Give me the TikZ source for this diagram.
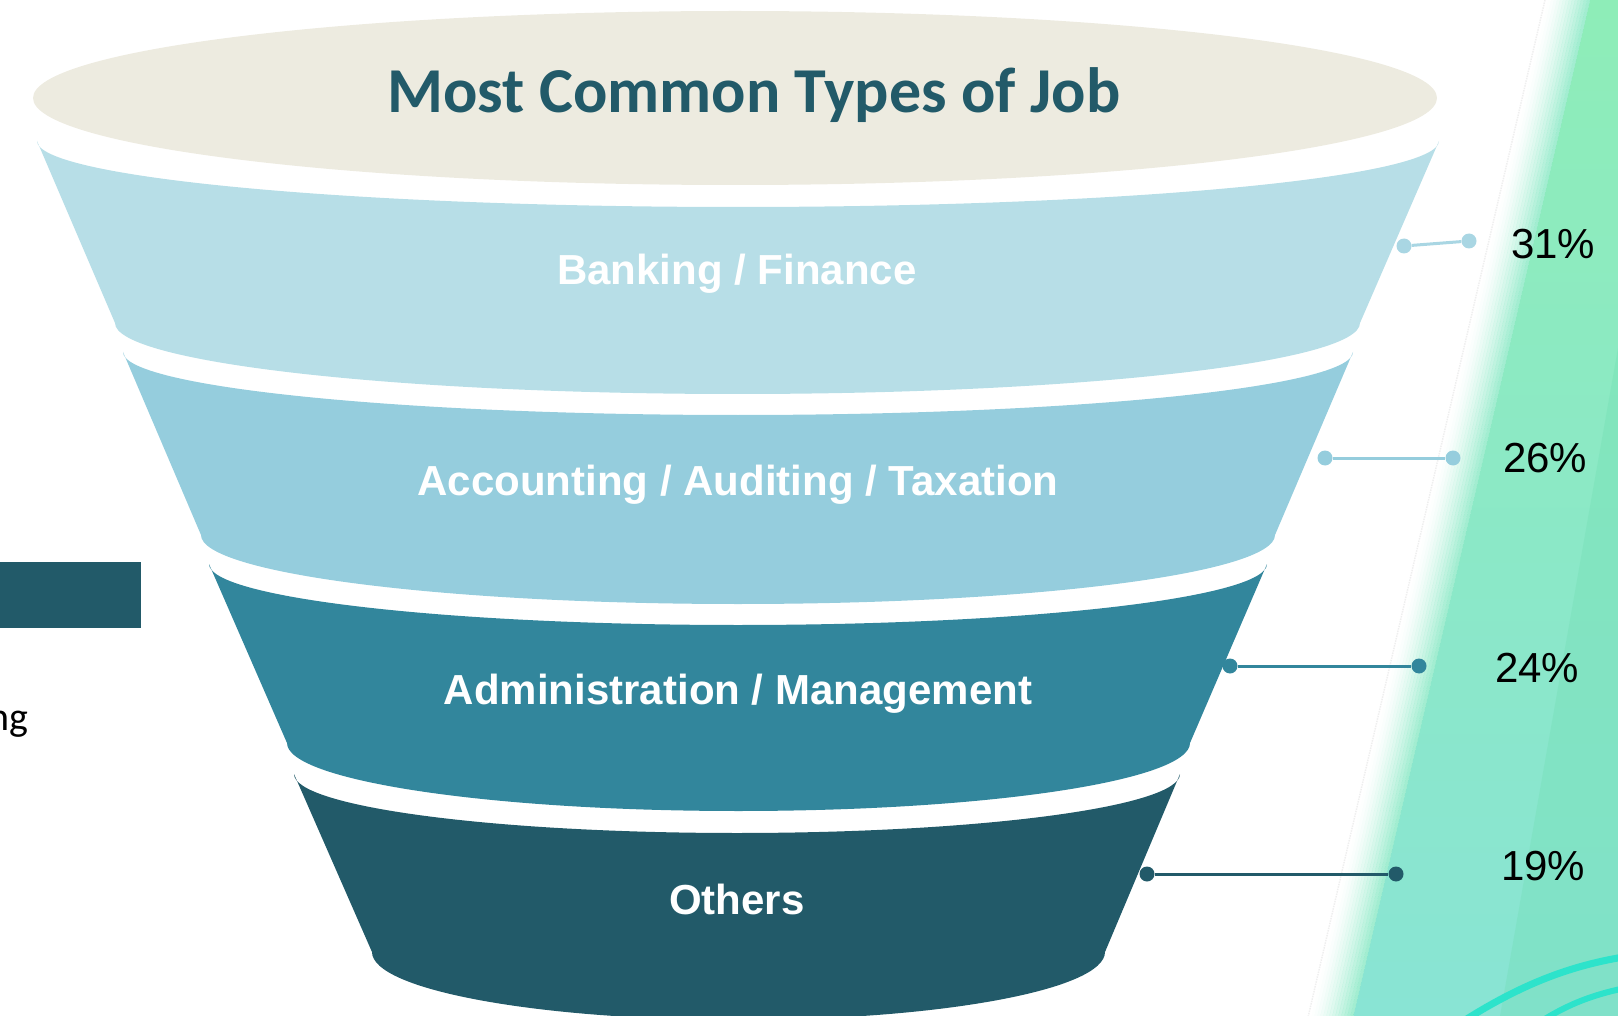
\documentclass[tikz,border=0pt]{standalone}
\usepackage{fontspec}
\setmainfont{Liberation Sans}
\newfontfamily\calibri{Carlito}
\definecolor{topc}{HTML}{EDEBE0}
\definecolor{bandA}{HTML}{B7DEE7}
\definecolor{bandB}{HTML}{95CDDD}
\definecolor{bandC}{HTML}{32869C}
\definecolor{bandD}{HTML}{225A69}
\definecolor{dotA}{HTML}{A9D6E3}
\definecolor{titlec}{HTML}{225A69}
\definecolor{gtop}{HTML}{8EEDB8}
\definecolor{gbot}{HTML}{89E4D4}
\definecolor{gmid}{HTML}{8CE9C6}
\definecolor{gstripe}{HTML}{6EDDB0}
\definecolor{swirl}{HTML}{2DE3CB}
\newcommand\fband[9]{%
  \pgfmathsetmacro\fbcT{(#2+#3)/2}%
  \pgfmathsetmacro\fbrT{(#3-#2)/2}%
  \pgfmathsetmacro\fbcB{(#6+#7)/2}%
  \pgfmathsetmacro\fbrB{(#7-#6)/2}%
  \fill[#1] (#2,#4) .. controls (#2,#4+0.5523*#5) and (\fbcT-0.5523*\fbrT,#4+#5) .. (\fbcT,#4+#5)
     .. controls (\fbcT+0.5523*\fbrT,#4+#5) and (#3,#4+0.5523*#5) .. (#3,#4)
     -- (#7,#8)
     .. controls (#7,#8+0.5523*#9) and (\fbcB+0.5523*\fbrB,#8+#9) .. (\fbcB,#8+#9)
     .. controls (\fbcB-0.5523*\fbrB,#8+#9) and (#6,#8+0.5523*#9) .. (#6,#8)
     -- cycle;}
\tikzset{
  bandlabel/.style={text=white, font=\bfseries\fontsize{42}{48}\selectfont, anchor=base, inner sep=0pt},
  pct/.style={text=black, font=\fontsize{42}{48}\selectfont, anchor=base west, inner sep=0pt},
  dotnode/.style={circle, inner sep=0pt, minimum size=15pt},
  conn/.style={line width=3pt}
}
\begin{document}
\begin{tikzpicture}[x=1pt,y=-1pt]
\useasboundingbox (0,0) rectangle (1618,1016);
% green background on the right
\shade[top color=gtop, bottom color=gbot] (1590,0) -- (1630,0) -- (1630,1016) -- (1353.3,1016) -- cycle;
\fill[gstripe, fill opacity=0.3] (1630,280) -- (1630,1016) -- (1500,1016) -- cycle;
\foreach \i in {0,...,14}{
  \pgfmathsetmacro\xa{1545+3*\i}
  \pgfmathsetmacro\op{0.8*(\i/14)^1.5}
  \fill[gmid, fill opacity=\op] (\xa,0) -- (\xa+3.2,0) -- (\xa+3.2-236.7,1016) -- (\xa-236.7,1016) -- cycle;
}
\draw[gray!35, densely dotted, line width=1.5pt, opacity=0.35] (1545,0) -- (1308.3,1016);
\draw[swirl, line width=7pt] (1462,1022) .. controls (1520,985) and (1570,965) .. (1630,956);
\draw[swirl, line width=6pt] (1540,1022) .. controls (1570,1003) and (1595,994) .. (1630,987);
% left fragments
\fill[bandD] (0,562) rectangle (141,628);
\node[font=\calibri\fontsize{40}{46}\selectfont, anchor=base east, inner sep=0pt] (frag) at (29,730) {ng};
% funnel
\fill[topc] (735,98) ellipse [x radius=702pt, y radius=87pt];
\fband{bandA}{37}{1439}{141}{66}{115}{1360}{323}{71}
\fband{bandB}{123}{1353}{352}{63}{201}{1275}{535}{69}
\fband{bandC}{209}{1267}{564}{61}{287}{1190}{743}{68}
\fband{bandD}{294}{1180}{774}{59}{372}{1105}{952}{68}
\node[font=\calibri\bfseries\fontsize{64}{70}\selectfont, text=titlec, anchor=base, inner sep=0pt] (title) at (754,113) {Most Common Types of Job};
\node[bandlabel] (l1) at (737,285) {Banking / Finance};
\node[bandlabel] (l2) at (738,495) {Accounting / Auditing / Taxation};
\node[bandlabel] (l3) at (738,704) {Administration / Management};
\node[bandlabel] (l4) at (737,914) {Others};
% connectors
\node[dotnode, fill=dotA] (d1a) at (1404,246) {};
\node[dotnode, fill=dotA] (d1b) at (1469,241) {};
\draw[conn, dotA] (d1a) -- (d1b);
\node[dotnode, fill=bandB] (d2a) at (1325,458) {};
\node[dotnode, fill=bandB] (d2b) at (1453,458) {};
\draw[conn, bandB] (d2a) -- (d2b);
\node[dotnode, fill=bandC] (d3a) at (1230,666) {};
\node[dotnode, fill=bandC] (d3b) at (1419,666) {};
\draw[conn, bandC] (d3a) -- (d3b);
\node[dotnode, fill=bandD] (d4a) at (1147,874) {};
\node[dotnode, fill=bandD] (d4b) at (1396,874) {};
\draw[conn, bandD] (d4a) -- (d4b);
% percentages
\node[pct] (p1) at (1511,259) {31\%};
\node[pct] (p2) at (1503,472) {26\%};
\node[pct] (p3) at (1495,682) {24\%};
\node[pct] (p4) at (1501,880) {19\%};
\end{tikzpicture}
\end{document}
